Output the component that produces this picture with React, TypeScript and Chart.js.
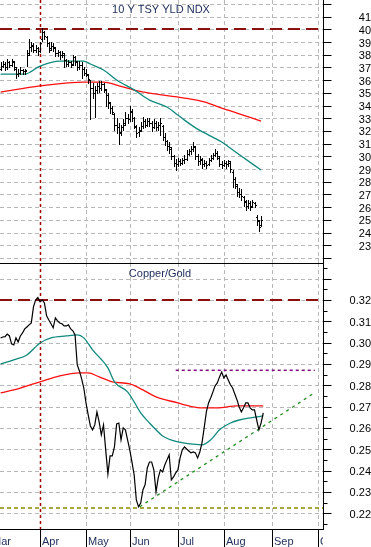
import React, { useEffect, useRef } from "react";
import { Chart, registerables } from "chart.js";
Chart.register(...registerables);

const FONT = "'Liberation Sans', Arial, Helvetica, sans-serif";
const W = 371;
const TOP_H = 263;
const BOT_H = 284;

// ---- time axis (trading-day index, 0 = 1 Mar 2010) ----
const monthLabels = ["Mar", "Apr", "May", "Jun", "Jul", "Aug", "Sep", "Oct"];
const monthStartDay = [0, 23, 44, 64, 86, 107, 129, 150];
const markerDay = 23;
const firstDay = 5;
const viewDays = [4.7, 152.3];

// ---- 10 Y TSY YLD NDX (daily OHLC) ----
const tsyTitle = "10 Y TSY YLD NDX";
const tsyOpen = [
  36.9, 37.1, 37.3, 37.0, 37.4, 37.2, 37.4, 36.9, 36.5, 36.6,
  36.8, 36.7, 36.8, 38.1, 38.6, 38.7, 38.4, 38.5, 38.3, 39.2,
  39.8, 39.4, 38.9, 38.5, 38.7, 38.5, 38.1, 38.2, 38.0, 38.0,
  37.6, 37.3, 37.4, 37.3, 37.8, 37.4, 37.0, 37.2, 36.9, 36.6,
  36.4, 36.0, 35.4, 35.0, 35.2, 35.5, 35.4, 35.7, 35.2, 34.8,
  34.2, 33.8, 33.3, 32.5, 32.3, 31.9, 32.3, 32.6, 33.0, 32.9,
  33.5, 33.0, 32.3, 31.9, 32.1, 32.4, 32.8, 32.5, 32.8, 32.6,
  32.3, 32.6, 32.3, 32.5, 32.4, 31.5, 31.2, 30.8, 30.6, 30.0,
  29.5, 29.4, 29.6, 29.5, 29.7, 29.8, 30.2, 30.4, 30.6, 30.7,
  30.0, 29.6, 29.7, 29.4, 29.5, 29.4, 29.7, 29.9, 30.1, 30.3,
  29.9, 29.4, 29.3, 29.5, 29.4, 29.5, 28.8, 28.2, 27.7, 27.2,
  27.0, 26.8, 26.4, 26.1, 26.3, 26.1, 26.3, 25.2, 24.9, 24.6,
];
const tsyHigh = [
  37.4, 37.5, 37.4, 37.7, 37.5, 37.7, 37.5, 37.0, 36.9, 37.0,
  36.9, 36.9, 38.4, 39.2, 39.0, 38.9, 38.8, 38.6, 39.0, 40.1,
  39.9, 39.5, 39.0, 39.0, 38.9, 38.6, 38.4, 38.3, 38.3, 38.1,
  37.7, 37.6, 37.5, 38.0, 37.9, 37.5, 37.5, 37.4, 37.0, 36.9,
  36.5, 36.0, 35.8, 35.5, 35.8, 35.9, 35.9, 35.8, 35.3, 35.0,
  34.3, 34.0, 33.4, 33.0, 32.6, 32.5, 32.9, 33.5, 33.3, 34.0,
  33.7, 33.1, 32.5, 32.3, 32.7, 33.1, 32.9, 33.0, 33.0, 32.8,
  32.9, 32.8, 32.7, 33.0, 32.5, 31.8, 31.3, 31.1, 30.7, 30.1,
  29.8, 29.9, 29.8, 29.9, 30.1, 30.5, 30.6, 30.8, 31.1, 30.8,
  30.2, 30.0, 29.9, 29.7, 29.6, 29.9, 30.1, 30.3, 30.6, 30.4,
  30.0, 29.6, 29.7, 29.6, 29.7, 29.6, 28.9, 28.4, 27.8, 27.5,
  27.4, 26.9, 26.6, 26.6, 26.5, 26.6, 26.4, 25.4, 25.0, 25.3,
];
const tsyLow = [
  36.8, 37.0, 36.8, 36.9, 37.0, 37.1, 36.8, 36.2, 36.3, 36.5,
  36.5, 36.5, 37.1, 38.0, 38.3, 38.2, 38.2, 38.0, 38.2, 39.1,
  39.2, 38.7, 38.2, 38.4, 38.3, 37.9, 37.9, 37.7, 37.8, 37.0,
  37.1, 37.1, 37.0, 37.2, 37.2, 36.8, 36.9, 36.2, 36.4, 36.3,
  35.8, 32.9, 34.6, 33.1, 35.0, 35.1, 35.2, 35.1, 34.0, 33.8,
  33.4, 33.3, 32.1, 31.8, 31.0, 31.7, 32.1, 32.5, 32.6, 32.8,
  32.8, 32.2, 31.5, 31.6, 32.0, 32.2, 32.3, 32.4, 32.4, 32.0,
  32.2, 32.1, 32.1, 31.7, 31.3, 30.9, 30.5, 30.3, 29.8, 29.2,
  28.9, 29.2, 29.3, 29.4, 29.5, 29.7, 30.1, 30.2, 30.4, 29.8,
  29.3, 29.4, 29.1, 29.2, 29.1, 29.3, 29.6, 29.8, 30.0, 29.8,
  29.2, 29.1, 29.2, 29.1, 29.2, 28.8, 27.6, 27.5, 26.9, 26.8,
  26.6, 26.1, 25.8, 25.9, 25.8, 26.0, 26.0, 24.6, 24.1, 24.5,
];
const tsyClose = [
  37.1, 37.3, 37.0, 37.4, 37.2, 37.5, 37.0, 36.5, 36.6, 36.8,
  36.7, 36.7, 38.0, 38.6, 38.8, 38.4, 38.5, 38.3, 38.9, 39.8,
  39.5, 38.9, 38.4, 38.7, 38.6, 38.1, 38.2, 38.0, 38.1, 37.6,
  37.3, 37.4, 37.2, 37.8, 37.5, 37.0, 37.2, 36.9, 36.6, 36.5,
  36.1, 35.4, 35.0, 35.2, 35.5, 35.4, 35.7, 35.3, 34.8, 34.3,
  33.8, 33.5, 32.5, 32.3, 31.8, 32.3, 32.5, 33.0, 32.9, 33.6,
  33.0, 32.4, 31.8, 32.0, 32.4, 32.8, 32.5, 32.8, 32.6, 32.3,
  32.6, 32.3, 32.5, 32.6, 31.5, 31.2, 30.8, 30.7, 30.0, 29.5,
  29.4, 29.6, 29.5, 29.7, 29.8, 30.2, 30.4, 30.6, 30.8, 30.0,
  29.6, 29.8, 29.4, 29.5, 29.3, 29.7, 29.9, 30.1, 30.3, 30.0,
  29.4, 29.3, 29.5, 29.4, 29.6, 29.0, 28.2, 27.8, 27.2, 27.0,
  26.9, 26.5, 26.1, 26.3, 26.0, 26.4, 26.2, 25.0, 24.4, 25.0,
];
const tsyMaFastDay = [5, 16, 23, 32, 43, 46, 52, 58, 66, 73, 81, 86, 89, 95, 106, 113, 124];
const tsyMaFast = [36.48, 36.48, 37.11, 37.5, 37.5, 37.27, 36.8, 36.01, 35.23, 34.43, 33.88, 33.25, 32.85, 32.14, 31.13, 30.26, 28.92];
const tsyMaSlowDay = [5, 23, 43, 52, 58, 66, 73, 89, 98, 106, 113, 124];
const tsyMaSlow = [35.06, 35.54, 35.85, 35.85, 35.61, 35.22, 34.98, 34.59, 34.28, 33.8, 33.41, 32.78];
const tsyLevel = 40;
const tsyAxis = [21.6, 42.31];
const tsyTickLabels = [23, 24, 25, 26, 27, 28, 29, 30, 31, 32, 33, 34, 35, 36, 37, 38, 39, 40, 41];

// ---- Copper/Gold ----
const cgTitle = "Copper/Gold";
const cgClose = [
  0.3022, 0.3026, 0.3028, 0.304, 0.3031, 0.2994, 0.2989, 0.3022, 0.3003, 0.3031,
  0.3045, 0.3064, 0.3073, 0.3083, 0.3092, 0.3167, 0.32, 0.3211, 0.3191, 0.32,
  0.3186, 0.3125, 0.3106, 0.3088, 0.3069, 0.3116, 0.3102, 0.3092, 0.3088, 0.3078,
  0.3078, 0.3083, 0.3064, 0.3055, 0.3036, 0.2895, 0.2867, 0.283, 0.2787, 0.2717,
  0.2661, 0.2609, 0.2591, 0.2614, 0.2675, 0.2628, 0.2567, 0.2614, 0.2497, 0.2384,
  0.2469, 0.2469, 0.2511, 0.2619, 0.2623, 0.2544, 0.26, 0.2591, 0.2544, 0.2497,
  0.244, 0.238, 0.2262, 0.223, 0.2248, 0.2309, 0.2333, 0.2412, 0.244, 0.244,
  0.2403, 0.23, 0.2366, 0.2403, 0.2394, 0.2426, 0.245, 0.2473, 0.2356, 0.237,
  0.2389, 0.2403, 0.2459, 0.2497, 0.2511, 0.2501, 0.2492, 0.2483, 0.2487, 0.2483,
  0.2459, 0.2487, 0.253, 0.26, 0.2675, 0.2717, 0.2741, 0.2769, 0.2797, 0.2811,
  0.2839, 0.2862, 0.2834, 0.2848, 0.2825, 0.2802, 0.2787, 0.2759, 0.2731, 0.2698,
  0.2675, 0.2694, 0.2717, 0.2717, 0.2694, 0.2684, 0.2684, 0.2637, 0.2591, 0.2623,
  0.267,
];
const cgMaFastDay = [5, 11, 17, 23, 28, 35, 40, 43, 47, 54, 57, 63, 66, 69, 73, 76, 79, 86, 92, 97, 101, 105, 110, 114, 119, 125];
const cgMaFast = [0.29, 0.2919, 0.2942, 0.2998, 0.3022, 0.3031, 0.3036, 0.3022, 0.2966, 0.2881, 0.2816, 0.2769, 0.2722, 0.267, 0.2623, 0.2591, 0.2562, 0.2534, 0.2525, 0.252, 0.2544, 0.2591, 0.2623, 0.2637, 0.2647, 0.2656];
const cgMaSlowDay = [5, 14, 23, 32, 41, 45, 50, 56, 64, 70, 76, 86, 89, 96, 104, 113, 125];
const cgMaSlow = [0.2764, 0.2787, 0.2816, 0.2844, 0.2858, 0.2858, 0.2839, 0.2816, 0.2806, 0.2778, 0.2745, 0.2717, 0.2708, 0.2694, 0.2694, 0.2703, 0.2703];
const cgHighLevel = 0.32;
const cgLowLevel = 0.2225;
const cgResistDay = [85, 148.5];
const cgResistVal = [0.287, 0.287];
const cgTrendDay = [68.5, 148.5];
const cgTrendVal = [0.223, 0.2765];
const cgAxis = [0.2126, 0.3373];
const cgTickLabels = [0.22, 0.23, 0.24, 0.25, 0.26, 0.27, 0.28, 0.29, 0.3, 0.31, 0.32];

// ---- styles ----
const TEAL = "#0e8a7d";
const RED = "#ff1010";
const DARK_RED = "#8b1010";
const MARKER = "#a00000";
const GRID = "#b8b8b8";
const NAVY = "#1c2b5a";

const pts = (days: number[], vals: number[]) => days.map((d, k) => ({ x: d, y: vals[k] }));
const seq = (vals: number[]) => vals.map((v, k) => ({ x: firstDay + k, y: v }));

function seg(ctx: any, x1: number, y1: number, x2: number, y2: number) {
  ctx.beginPath();
  ctx.moveTo(x1, y1);
  ctx.lineTo(x2, y2);
  ctx.stroke();
}
function clipArea(ctx: any, a: any) {
  ctx.beginPath();
  ctx.rect(a.left, a.top, a.right - a.left, a.bottom - a.top);
  ctx.clip();
}
const crisp = (v: number) => Math.round(v) + 0.5;

function drawGrid(ctx: any, a: any, x: any, y: any) {
  ctx.save();
  clipArea(ctx, a);
  ctx.strokeStyle = GRID;
  ctx.lineWidth = 1;
  ctx.setLineDash([4, 3]);
  for (const t of y.ticks) {
    const py = crisp(y.getPixelForValue(t.value));
    seg(ctx, a.left, py, a.right, py);
  }
  for (const d of monthStartDay) {
    if (d === markerDay) continue;
    const px = crisp(x.getPixelForValue(d));
    seg(ctx, px, a.top, px, a.bottom);
  }
  ctx.strokeStyle = MARKER;
  ctx.lineWidth = 1.5;
  ctx.setLineDash([3, 3]);
  const mx = crisp(x.getPixelForValue(markerDay));
  seg(ctx, mx, a.top, mx, a.bottom);
  ctx.restore();
}
function levelLine(ctx: any, a: any, y: any, v: number, color: string, w: number, dash: number[]) {
  ctx.save();
  clipArea(ctx, a);
  ctx.strokeStyle = color;
  ctx.lineWidth = w;
  ctx.setLineDash(dash);
  const py = Math.round(y.getPixelForValue(v));
  seg(ctx, a.left, py, a.right, py);
  ctx.restore();
}
function axisTicks(ctx: any, a: any, y: any, minor: boolean) {
  ctx.save();
  ctx.strokeStyle = "#000";
  ctx.lineWidth = 1;
  ctx.setLineDash([]);
  const ax = a.right + 0.5;
  seg(ctx, ax, a.top, ax, a.bottom);
  const vals = y.ticks.map((t: any) => t.value);
  for (let k = 0; k < vals.length; k++) {
    const py = crisp(y.getPixelForValue(vals[k]));
    if (py >= a.top && py <= a.bottom) seg(ctx, ax, py, ax + 8, py);
    if (minor && k + 1 < vals.length) {
      const pm = crisp(y.getPixelForValue((vals[k] + vals[k + 1]) / 2));
      if (pm >= a.top && pm <= a.bottom) seg(ctx, ax, pm, ax + 4, pm);
    }
  }
  if (minor && vals.length > 1) {
    const step = vals[1] - vals[0];
    const pm = crisp(y.getPixelForValue(vals[0] - step / 2));
    if (pm >= a.top && pm <= a.bottom) seg(ctx, ax, pm, ax + 4, pm);
    const pn = crisp(y.getPixelForValue(vals[vals.length - 1] + step / 2));
    if (pn >= a.top && pn <= a.bottom) seg(ctx, ax, pn, ax + 4, pn);
  }
  ctx.restore();
}
function title(ctx: any, text: string, cx: number, cy: number) {
  ctx.save();
  ctx.font = `11px ${FONT}`;
  ctx.fillStyle = NAVY;
  ctx.textAlign = "center";
  ctx.textBaseline = "middle";
  ctx.fillText(text, cx, cy);
  ctx.restore();
}

const hasLabel = (list: number[], v: number, eps: number) => list.some((t) => Math.abs(t - v) < eps);

const topDecor = {
  id: "topDecor",
  beforeDatasetsDraw(chart: any) {
    const { ctx, chartArea: a, scales } = chart;
    drawGrid(ctx, a, scales.x, scales.y);
    levelLine(ctx, a, scales.y, tsyLevel, DARK_RED, 2, [12, 6]);
  },
  afterDatasetsDraw(chart: any) {
    const { ctx, chartArea: a, scales } = chart;
    const x = scales.x;
    const y = scales.y;
    ctx.save();
    clipArea(ctx, a);
    ctx.fillStyle = "#000";
    for (let k = 0; k < tsyClose.length; k++) {
      const px = Math.round(x.getPixelForValue(firstDay + k));
      const yh = Math.round(y.getPixelForValue(tsyHigh[k]));
      const yl = Math.round(y.getPixelForValue(tsyLow[k]));
      const yo = Math.round(y.getPixelForValue(tsyOpen[k]));
      const yc = Math.round(y.getPixelForValue(tsyClose[k]));
      ctx.fillRect(px, yh, 1, Math.max(1, yl - yh + 1));
      ctx.fillRect(px - 1, yo, 1, 1);
      ctx.fillRect(px + 1, yc, 1, 1);
    }
    ctx.restore();
  },
  afterDraw(chart: any) {
    const { ctx, chartArea: a, scales } = chart;
    axisTicks(ctx, a, scales.y, false);
    title(ctx, tsyTitle, 161, 9.5);
  },
};

const botDecor = {
  id: "botDecor",
  beforeDatasetsDraw(chart: any) {
    const { ctx, chartArea: a, scales } = chart;
    drawGrid(ctx, a, scales.x, scales.y);
    levelLine(ctx, a, scales.y, cgHighLevel, DARK_RED, 2, [12, 6]);
    levelLine(ctx, a, scales.y, cgLowLevel, "#8a8a00", 1.5, [4, 3]);
  },
  afterDraw(chart: any) {
    const { ctx, chartArea: a, scales, height } = chart;
    const x = scales.x;
    axisTicks(ctx, a, scales.y, true);
    ctx.save();
    ctx.strokeStyle = "#000";
    ctx.lineWidth = 1;
    seg(ctx, a.left, a.top + 0.5, a.right + 1, a.top + 0.5);
    seg(ctx, a.left, crisp(a.bottom), a.right + 1, crisp(a.bottom));
    ctx.beginPath();
    ctx.rect(a.left, a.bottom, a.right - a.left, height - a.bottom);
    ctx.clip();
    ctx.font = `11px ${FONT}`;
    ctx.fillStyle = NAVY;
    ctx.textAlign = "left";
    ctx.textBaseline = "middle";
    monthStartDay.forEach((d, k) => {
      const px = crisp(x.getPixelForValue(d));
      seg(ctx, px, a.bottom, px, height);
      ctx.fillText(monthLabels[k], px + 1.5, a.bottom + 12.5);
    });
    ctx.restore();
    title(ctx, cgTitle, 160, 10.5);
  },
};

const fitAxis = (s: any) => {
  s.width = W - 323;
  s.paddingTop = 0;
  s.paddingBottom = 0;
};

const baseOptions = (yScale: any, padBottom: number) => ({
  responsive: false,
  animation: false,
  devicePixelRatio: 1,
  layout: { padding: { left: 0, right: 0, top: 0, bottom: padBottom } },
  plugins: { legend: { display: false }, tooltip: { enabled: false }, title: { display: false } },
  elements: { point: { radius: 0 } },
  scales: {
    x: { type: "linear", min: viewDays[0], max: viewDays[1], display: false },
    y: yScale,
  },
});

export default function App() {
  const topRef = useRef<HTMLCanvasElement>(null);
  const botRef = useRef<HTMLCanvasElement>(null);

  useEffect(() => {
    document.body.style.margin = "0";
    Chart.defaults.font.family = FONT;

    const top = new Chart(topRef.current as HTMLCanvasElement, {
      type: "line",
      data: {
        datasets: [
          { data: pts(tsyMaFastDay, tsyMaFast), borderColor: TEAL, borderWidth: 1.3, pointRadius: 0, cubicInterpolationMode: "monotone" },
          { data: pts(tsyMaSlowDay, tsyMaSlow), borderColor: RED, borderWidth: 1.3, pointRadius: 0, cubicInterpolationMode: "monotone" },
        ],
      } as any,
      options: baseOptions(
        {
          position: "right",
          min: tsyAxis[0],
          max: tsyAxis[1],
          afterFit: fitAxis,
          grid: { display: false, drawTicks: false },
          border: { display: false },
          ticks: {
            stepSize: 1,
            includeBounds: false,
            autoSkip: false,
            padding: 32,
            crossAlign: "far",
            labelOffset: 1.5,
            color: "#000",
            font: { family: FONT, size: 11 },
            callback: (v: any) => (hasLabel(tsyTickLabels, Number(v), 0.01) ? String(Math.round(Number(v))) : ""),
          },
        },
        0
      ) as any,
      plugins: [topDecor],
    });

    const bot = new Chart(botRef.current as HTMLCanvasElement, {
      type: "line",
      data: {
        datasets: [
          { data: seq(cgClose), borderColor: "#000", borderWidth: 1.2, pointRadius: 0 },
          { data: pts(cgMaFastDay, cgMaFast), borderColor: TEAL, borderWidth: 1.3, pointRadius: 0, cubicInterpolationMode: "monotone" },
          { data: pts(cgMaSlowDay, cgMaSlow), borderColor: RED, borderWidth: 1.3, pointRadius: 0, cubicInterpolationMode: "monotone" },
          { data: pts(cgResistDay, cgResistVal), borderColor: "#800080", borderWidth: 1.5, borderDash: [3, 3], pointRadius: 0 },
          { data: pts(cgTrendDay, cgTrendVal), borderColor: "#1e8c1e", borderWidth: 1.3, borderDash: [3, 4], pointRadius: 0 },
        ],
      } as any,
      options: baseOptions(
        {
          position: "right",
          min: cgAxis[0],
          max: cgAxis[1],
          afterFit: fitAxis,
          grid: { display: false, drawTicks: false },
          border: { display: false },
          ticks: {
            stepSize: 0.01,
            includeBounds: false,
            autoSkip: false,
            padding: 23,
            crossAlign: "far",
            labelOffset: 1.5,
            color: "#000",
            font: { family: FONT, size: 11 },
            callback: (v: any) => (hasLabel(cgTickLabels, Number(v), 0.0005) ? Number(v).toFixed(2) : ""),
          },
        },
        18
      ) as any,
      plugins: [botDecor],
    });

    return () => {
      top.destroy();
      bot.destroy();
    };
  }, []);

  return (
    <div style={{ width: W, height: TOP_H + BOT_H, background: "#fff" }}>
      <canvas ref={topRef} width={W} height={TOP_H} style={{ display: "block" }} />
      <canvas ref={botRef} width={W} height={BOT_H} style={{ display: "block" }} />
    </div>
  );
}
